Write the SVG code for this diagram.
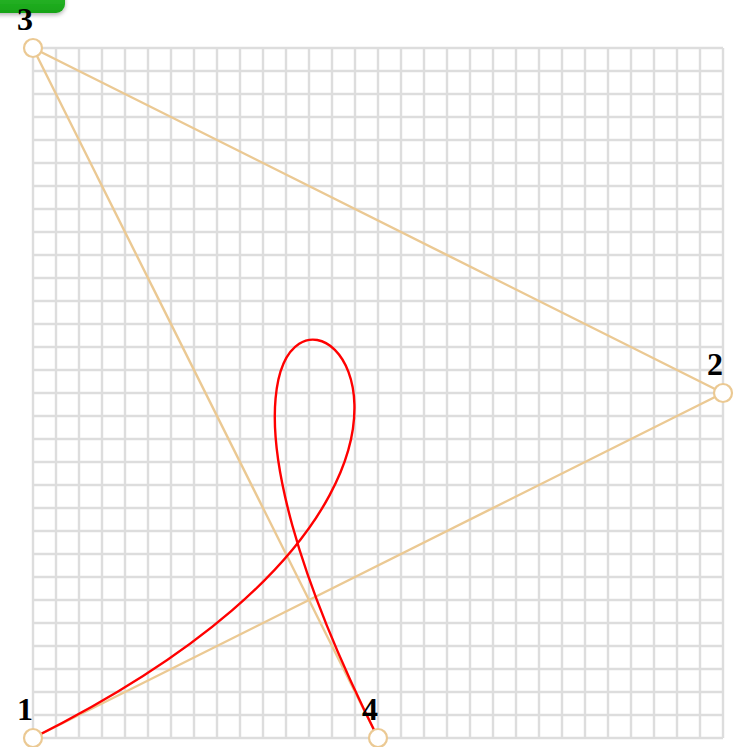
<svg xmlns="http://www.w3.org/2000/svg" width="739" height="747" viewBox="0 0 739 747">
<style>
.grid line{stroke:#dddddd;stroke-width:2.4}
.edge{stroke:#ebc993;stroke-width:2.4;fill:none}
.curve{stroke:#ff0000;stroke-width:2.4;fill:none}
.pt{fill:#ffffff;stroke:#ebc993;stroke-width:2.2}
.lbl{font-family:"Liberation Serif",serif;font-weight:bold;font-size:32px;fill:#000;text-anchor:end}
</style>
<defs>
<linearGradient id="gg" x1="0" y1="0" x2="0" y2="1">
<stop offset="0" stop-color="#3cc83c"/>
<stop offset="1" stop-color="#16a316"/>
</linearGradient>
<filter id="sh" x="-20%" y="-20%" width="140%" height="160%">
<feDropShadow dx="0" dy="2" stdDeviation="2" flood-color="#000" flood-opacity="0.3"/>
</filter>
</defs>
<rect width="739" height="747" fill="#ffffff"/>
<g id="button">
<rect x="-12" y="-23" width="77" height="36" rx="9" fill="url(#gg)" filter="url(#sh)"/>
</g>
<g class="grid" id="grid">
<line x1="33" y1="48" x2="33" y2="738"/><line x1="56" y1="48" x2="56" y2="738"/><line x1="79" y1="48" x2="79" y2="738"/><line x1="102" y1="48" x2="102" y2="738"/><line x1="125" y1="48" x2="125" y2="738"/><line x1="148" y1="48" x2="148" y2="738"/><line x1="171" y1="48" x2="171" y2="738"/><line x1="194" y1="48" x2="194" y2="738"/><line x1="217" y1="48" x2="217" y2="738"/><line x1="240" y1="48" x2="240" y2="738"/><line x1="263" y1="48" x2="263" y2="738"/><line x1="286" y1="48" x2="286" y2="738"/><line x1="309" y1="48" x2="309" y2="738"/><line x1="332" y1="48" x2="332" y2="738"/><line x1="355" y1="48" x2="355" y2="738"/><line x1="378" y1="48" x2="378" y2="738"/><line x1="401" y1="48" x2="401" y2="738"/><line x1="424" y1="48" x2="424" y2="738"/><line x1="447" y1="48" x2="447" y2="738"/><line x1="470" y1="48" x2="470" y2="738"/><line x1="493" y1="48" x2="493" y2="738"/><line x1="516" y1="48" x2="516" y2="738"/><line x1="539" y1="48" x2="539" y2="738"/><line x1="562" y1="48" x2="562" y2="738"/><line x1="585" y1="48" x2="585" y2="738"/><line x1="608" y1="48" x2="608" y2="738"/><line x1="631" y1="48" x2="631" y2="738"/><line x1="654" y1="48" x2="654" y2="738"/><line x1="677" y1="48" x2="677" y2="738"/><line x1="700" y1="48" x2="700" y2="738"/><line x1="723" y1="48" x2="723" y2="738"/>
<line x1="33" y1="48" x2="723" y2="48"/><line x1="33" y1="71" x2="723" y2="71"/><line x1="33" y1="94" x2="723" y2="94"/><line x1="33" y1="117" x2="723" y2="117"/><line x1="33" y1="140" x2="723" y2="140"/><line x1="33" y1="163" x2="723" y2="163"/><line x1="33" y1="186" x2="723" y2="186"/><line x1="33" y1="209" x2="723" y2="209"/><line x1="33" y1="232" x2="723" y2="232"/><line x1="33" y1="255" x2="723" y2="255"/><line x1="33" y1="278" x2="723" y2="278"/><line x1="33" y1="301" x2="723" y2="301"/><line x1="33" y1="324" x2="723" y2="324"/><line x1="33" y1="347" x2="723" y2="347"/><line x1="33" y1="370" x2="723" y2="370"/><line x1="33" y1="393" x2="723" y2="393"/><line x1="33" y1="416" x2="723" y2="416"/><line x1="33" y1="439" x2="723" y2="439"/><line x1="33" y1="462" x2="723" y2="462"/><line x1="33" y1="485" x2="723" y2="485"/><line x1="33" y1="508" x2="723" y2="508"/><line x1="33" y1="531" x2="723" y2="531"/><line x1="33" y1="554" x2="723" y2="554"/><line x1="33" y1="577" x2="723" y2="577"/><line x1="33" y1="600" x2="723" y2="600"/><line x1="33" y1="623" x2="723" y2="623"/><line x1="33" y1="646" x2="723" y2="646"/><line x1="33" y1="669" x2="723" y2="669"/><line x1="33" y1="692" x2="723" y2="692"/><line x1="33" y1="715" x2="723" y2="715"/><line x1="33" y1="738" x2="723" y2="738"/>
</g>
<g id="connectors">
<line class="edge" x1="33" y1="48" x2="723" y2="393"/>
<line class="edge" x1="723" y1="393" x2="33" y2="738"/>
<line class="edge" x1="33" y1="48" x2="378" y2="738"/>
<path class="curve" d="M33,738 C723,393 33,48 378,738"/>
</g>
<g id="p1"><circle class="pt" cx="33" cy="738" r="9"/><text class="lbl" x="33" y="720">1</text></g>
<g id="p2"><circle class="pt" cx="723" cy="393" r="9"/><text class="lbl" x="723" y="375">2</text></g>
<g id="p3"><circle class="pt" cx="33" cy="48" r="9"/><text class="lbl" x="33" y="30">3</text></g>
<g id="p4"><circle class="pt" cx="378" cy="738" r="9"/><text class="lbl" x="378" y="720">4</text></g>
</svg>
